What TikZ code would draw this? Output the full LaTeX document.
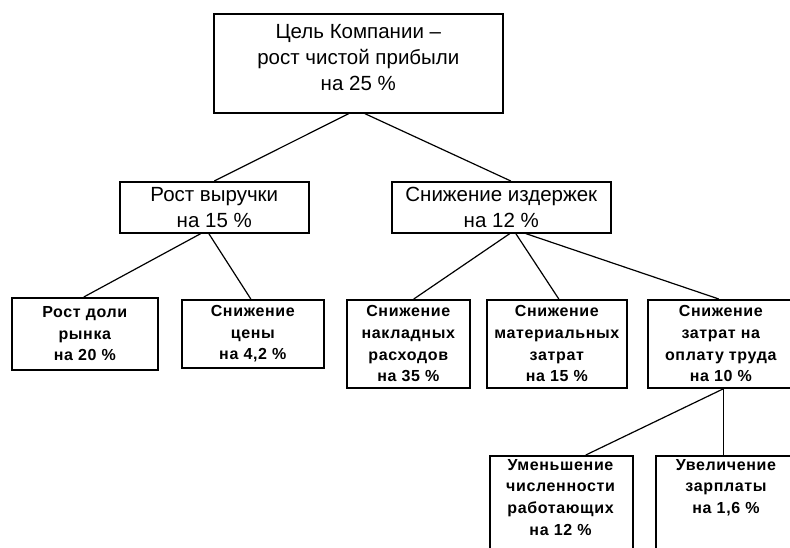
\documentclass[tikz,border=0pt]{standalone}
\usepackage{fontspec}
\setmainfont{Liberation Sans}
\newfontfamily\boxfont[LetterSpace=4]{Liberation Sans Bold}

\begin{document}
\begin{tikzpicture}[x=1pt,y=-1pt,
  box/.style={draw, line width=1.6pt, inner sep=0pt, align=center, anchor=north west},
  bigtext/.style={font=\fontsize{20.5}{26}\selectfont},
  smalltext/.style={font=\boxfont\fontsize{16}{21.7}\selectfont},
  caption/.style={smalltext, inner sep=0pt, align=center, anchor=north},
  link/.style={line width=1.2pt}]
\useasboundingbox (0,0) rectangle (790,548);
\fill[white] (0,0) rectangle (790,548);
\clip (0,0) rectangle (790,548);

% goal
\node[box,bigtext,text depth=12pt,minimum width=289pt,minimum height=99pt] (goal) at (213,13)
  {Цель Компании –\\рост чистой прибыли\\на 25 \%};

% second level
\node[box,bigtext,minimum width=189pt,minimum height=51pt] (rev) at (119,181)
  {Рост выручки\\на 15 \%};
\node[box,bigtext,minimum width=219pt,minimum height=51pt] (cost) at (391,181)
  {Снижение издержек\\на 12 \%};

% third level
\node[box,smalltext,minimum width=146pt,minimum height=72pt] (share) at (11,297)
  {Рост доли\\рынка\\на 20 \%};
\node[box,smalltext,minimum width=142pt,minimum height=68pt] (price) at (181,299)
  {Снижение\\цены\\на 4,2 \%};
\node[box,smalltext,minimum width=123pt,minimum height=88pt] (over) at (346,299)
  {Снижение\\накладных\\расходов\\на 35 \%};
\node[box,smalltext,minimum width=140pt,minimum height=88pt] (mat) at (486,299)
  {Снижение\\материальных\\затрат\\на 15 \%};
\node[box,smalltext,minimum width=146pt,minimum height=88pt] (labor) at (647,299)
  {Снижение\\затрат на\\оплату труда\\на 10 \%};

% fourth level (boxes run past the lower edge)
\node[box,minimum width=143pt,minimum height=120pt] (staff) at (489,455) {};
\node[box,minimum width=142pt,minimum height=120pt] (wage) at (655,455) {};
\node[caption] (stafftext) at (560.5,459)
  {Уменьшение\\численности\\работающих\\на 12 \%};
\node[caption] (wagetext) at (726,459)
  {Увеличение\\зарплаты\\на 1,6 \%};

% connectors
\draw[link] ([xshift=-9.5pt]goal.south) -- (rev.north);
\draw[link] ([xshift=6.5pt]goal.south) -- ([xshift=9.5pt]cost.north);
\draw[link] ([xshift=-13.5pt]rev.south) -- ([xshift=-1pt]share.north);
\draw[link] ([xshift=-5.5pt]rev.south) -- ([xshift=-2pt]price.north);
\draw[link] ([xshift=8.5pt]cost.south) -- ([xshift=5.5pt]over.north);
\draw[link] ([xshift=14.5pt]cost.south) -- ([xshift=2pt]mat.north);
\draw[link] ([xshift=24.5pt]cost.south) -- ([xshift=-2pt]labor.north);
\draw[link] ([xshift=3pt]labor.south) -- ([xshift=24.5pt]staff.north);
\draw[link] ([xshift=3pt]labor.south) -- ([xshift=-3pt]wage.north);
\end{tikzpicture}
\end{document}
